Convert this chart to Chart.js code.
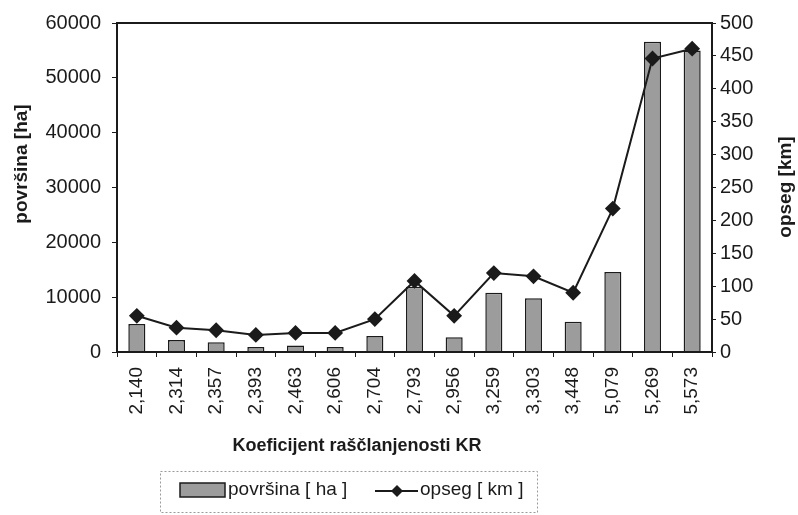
<!DOCTYPE html>
<html lang="hr">
<head>
<meta charset="UTF-8">
<title>Površina i opseg prema koeficijentu raščlanjenosti</title>
<script src="https://cdn.jsdelivr.net/npm/chart.js"></script>
<style>
    html, body { margin: 0; padding: 0; background: #fff; }
    #wrap { width: 798px; height: 515px; position: relative; }
</style>
</head>
<body>
<div id="wrap"><canvas id="kr"></canvas></div>
<script>
// values
const koeficijent = ['2,140', '2,314', '2,357', '2,393', '2,463', '2,606', '2,704', '2,793',
                     '2,956', '3,259', '3,303', '3,448', '5,079', '5,269', '5,573'];
const povrsina = [5100, 2200, 1800, 900, 1200, 900, 2900, 11900, 2700, 10800, 9800, 5500, 14600, 56600, 55000];
const opseg = [55, 37, 33, 26, 29, 29, 50, 108, 55, 120, 115, 90, 218, 446, 461];

const ink = '#1b1b1b';
const tickFont = { family: 'Liberation Sans', size: 19 };
const yFont = { family: 'Liberation Sans', size: 20 };

// frame, axis titles and the legend box are drawn by hand to match the scan
const decor = {
    id: 'decor',
    afterDraw(chart) {
        const c = chart.ctx, a = chart.chartArea;
        c.save();
        c.strokeStyle = ink;
        c.lineWidth = 2;
        c.strokeRect(a.left, a.top, a.right - a.left, a.bottom - a.top);

        c.fillStyle = ink;
        c.font = 'bold 19px "Liberation Sans"';
        c.textAlign = 'center';
        c.textBaseline = 'middle';
        c.save();
        c.translate(22, 164);
        c.rotate(-Math.PI / 2);
        c.fillText('površina [ha]', 0, 0);
        c.restore();
        c.save();
        c.translate(786, 187);
        c.rotate(-Math.PI / 2);
        c.fillText('opseg [km]', 0, 0);
        c.restore();

        c.font = 'bold 18px "Liberation Sans"';
        c.fillText('Koeficijent raščlanjenosti KR', 357, 446);

        // legend
        c.strokeStyle = '#9a9a9a';
        c.lineWidth = 1;
        c.setLineDash([2, 2]);
        c.strokeRect(160.5, 471.5, 377, 41);
        c.setLineDash([]);

        const ds = chart.data.datasets;
        c.fillStyle = '#9c9c9c';
        c.fillRect(180, 483, 45, 14);
        c.strokeStyle = ink;
        c.lineWidth = 1.5;
        c.strokeRect(180, 483, 45, 14);
        c.fillStyle = ink;
        c.font = '19px "Liberation Sans"';
        c.textAlign = 'left';
        c.fillText(ds[0].label, 228, 490);

        c.lineWidth = 2;
        c.beginPath();
        c.moveTo(375, 491);
        c.lineTo(418, 491);
        c.stroke();
        c.beginPath();
        c.moveTo(397, 485); c.lineTo(403, 491); c.lineTo(397, 497); c.lineTo(391, 491);
        c.closePath();
        c.fill();
        c.fillText(ds[1].label, 420, 490);
        c.restore();
    }
};

new Chart(document.getElementById('kr'), {
    type: 'bar',
    data: {
        labels: koeficijent,
        datasets: [{
            type: 'bar',
            label: 'površina [ ha ]',
            data: povrsina,
            yAxisID: 'y',
            backgroundColor: '#9c9c9c',
            borderColor: ink,
            borderWidth: 1.5,
            barPercentage: 0.43,
            categoryPercentage: 1,
            order: 2
        }, {
            type: 'line',
            label: 'opseg [ km ]',
            data: opseg,
            yAxisID: 'y1',
            borderColor: ink,
            borderWidth: 2,
            backgroundColor: ink,
            pointStyle: 'rectRot',
            pointRadius: 6.5,
            pointBackgroundColor: ink,
            pointBorderColor: ink,
            tension: 0,
            order: 1
        }]
    },
    options: {
        responsive: true,
        maintainAspectRatio: false,
        animation: false,
        layout: { padding: { top: 17, left: 0, right: 0, bottom: 0 } },
        plugins: {
            legend: { display: false },
            tooltip: { enabled: false }
        },
        scales: {
            x: {
                afterFit(s) { s.height = 163; },
                grid: { drawOnChartArea: false, color: ink, tickLength: 5, offset: true },
                border: { color: ink, width: 2 },
                ticks: { color: ink, font: tickFont, maxRotation: 90, minRotation: 90, padding: 10, autoSkip: false }
            },
            y: {
                position: 'left',
                min: 0,
                max: 60000,
                afterFit(s) { s.width = 117; },
                grid: { drawOnChartArea: false, color: ink, tickLength: 5 },
                border: { color: ink, width: 2 },
                ticks: { color: ink, font: yFont, stepSize: 10000, padding: 11, callback: v => String(v) }
            },
            y1: {
                position: 'right',
                min: 0,
                max: 500,
                afterFit(s) { s.width = 86; },
                grid: { drawOnChartArea: false, color: ink, tickLength: 4 },
                border: { color: ink, width: 2 },
                ticks: { color: ink, font: yFont, stepSize: 50, padding: 4 }
            }
        }
    },
    plugins: [decor]
});
</script>
</body>
</html>
